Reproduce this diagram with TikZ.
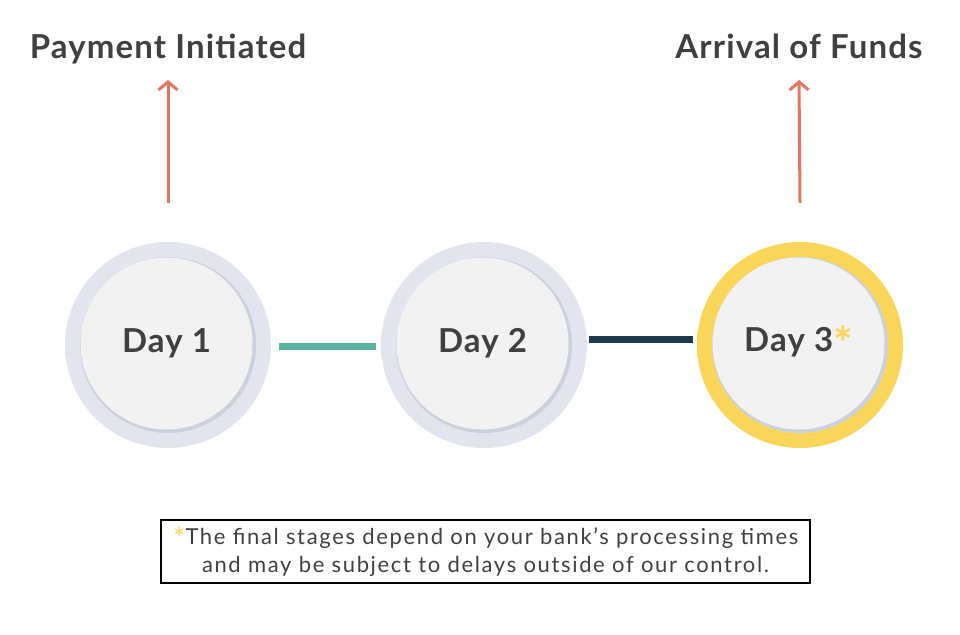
\documentclass[tikz,border=0pt]{standalone}
\usepackage{fontspec}
\setmainfont{Lato}
\newfontfamily\headfont[LetterSpace=3.5]{Lato}
\newfontfamily\notefont[LetterSpace=7.5]{Lato}
\usetikzlibrary{arrows.meta,positioning}
\definecolor{ink}{HTML}{404040}
\definecolor{rise}{HTML}{E4735F}
\definecolor{barteal}{HTML}{5AB3A0}
\definecolor{barnavy}{HTML}{1C3A4C}
\definecolor{halo}{HTML}{E2E5ED}
\definecolor{halofade}{HTML}{F5F6F9}
\definecolor{gold}{HTML}{F9D55A}
\definecolor{goldfade}{HTML}{FDF2CC}
\definecolor{face}{HTML}{F2F2F3}
\definecolor{faceshade}{HTML}{CBD0DD}
\pgfdeclareradialshading{greyhalo}{\pgfpoint{0bp}{0bp}}{color(0bp)=(halo);
  color(42bp)=(halo); color(49bp)=(halofade); color(50bp)=(white)}
\pgfdeclareradialshading{goldhalo}{\pgfpoint{0bp}{0bp}}{color(0bp)=(gold);
  color(43bp)=(gold); color(49.5bp)=(goldfade); color(50bp)=(white)}
\newcommand{\goldstar}[2]{\raisebox{#2}{\color{gold}\fontsize{#1}{#1}\selectfont*}}

\begin{document}
\begin{tikzpicture}[x=1pt,y=1pt,every node/.style={text=ink},
  ring/.style={circle,minimum size=206pt,inner sep=0pt},
  face/.style={circle,fill=face,minimum size=172pt,inner sep=0pt,
    font=\fontsize{33}{38}\headfont\bfseries},
  title/.style={inner sep=0pt,anchor=base,
    font=\fontsize{33}{38}\headfont\bfseries},
  bar/.style={line width=7pt,shorten <=8pt,shorten >=5pt},
  up/.style={draw=rise,line width=3pt,
    -{Straight Barb[length=8pt,width=19pt,line width=3pt]}}]
\useasboundingbox (0,0) rectangle (960,634);
% the three days
\node[ring,shading=greyhalo] (h1) at (168,289) {};
\node[ring,shading=greyhalo] (h2) at (484,289) {};
\node[ring,shading=goldhalo] (h3) at (800,289) {};
\foreach \i in {1,2,3} {\fill[faceshade] (h\i) circle (88);}
\node[face] (d1) at ([shift={(-1.5,1.5)}]h1) {Day 1};
\node[face] (d2) at ([shift={(-1.5,1.5)}]h2) {Day 2};
\node[face] (d3) at ([shift={(-1.5,1.5)}]h3) {Day 3\goldstar{46}{-9pt}};
\draw[bar,barteal] ([yshift=-2]h1.east) -- ([yshift=-2]h2.west);
\draw[bar,barnavy,shorten <=2pt,shorten >=4pt]
  ([yshift=5.5]h2.east) -- ([yshift=5.5]h3.west);
% milestones
\node[title] (t1) at (168,575) {Payment Initiated};
\node[title] (t3) at (799,575) {Arrival of Funds};
\draw[up] ([yshift=39]h1.north) -- ([yshift=-21]t1.base);
\draw[up] ([yshift=39]h3.north) -- ([yshift=-21]t3.base);
\node[draw=black,line width=1.5pt,minimum width=649pt,minimum height=63pt,
  align=center,font=\fontsize{22}{28}\notefont] (note) at (485.5,82.5)
  {\goldstar{30}{-5pt}The final stages depend on your bank’s processing times\\
   and may be subject to delays outside of our control.};
\end{tikzpicture}
\end{document}
